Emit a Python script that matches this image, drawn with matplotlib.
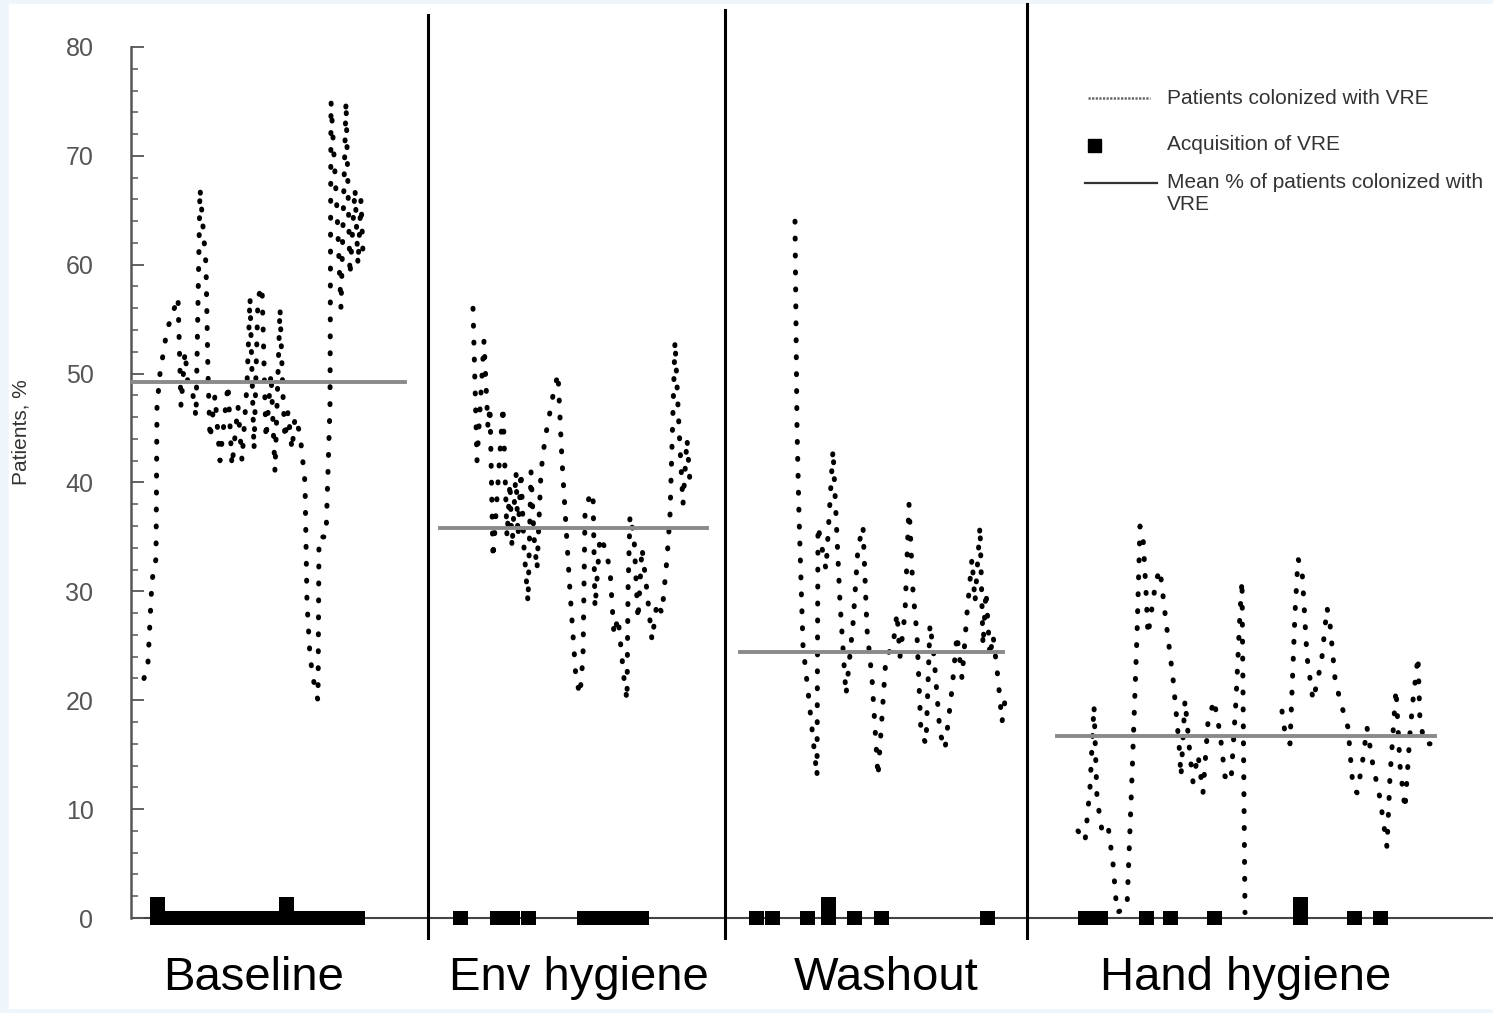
import matplotlib
matplotlib.use("Agg")
import matplotlib.pyplot as plt
from matplotlib.lines import Line2D
from matplotlib.patches import Rectangle
from matplotlib.ticker import FixedLocator

plt.rcParams["font.family"] = ["Liberation Sans", "DejaVu Sans"]
plt.rcParams["lines.scale_dashes"] = False

# ---- data (x = study day, y = % of patients colonized) ----
bl_day = [2.6, 3.4, 4.2, 5.0, 5.2, 5.8, 7.2, 9.4, 10.0, 10.8,
          11.4, 12.4, 13.0, 13.8, 15.0, 15.4, 15.8, 16.8, 17.8, 19.4,
          20.2, 21.4, 22.2, 23.2, 23.8, 24.6, 25.4, 26.2, 27.0, 28.0,
          28.8, 29.8, 30.4, 30.8, 31.4, 32.2, 32.8, 33.8, 34.8, 35.2,
          35.8, 36.8, 37.4, 37.6, 39.0, 39.8, 40.0, 41.2, 42.0, 43.0,
          43.8, 44.8, 45.4, 46.0, 46.4]
bl_pct = [22, 23.5, 31, 33, 47, 50, 54, 57, 47, 52,
          49, 48, 46, 67, 60, 50, 44, 48, 42, 49,
          41.5, 47, 42, 49, 57, 43, 57, 58, 44, 50,
          41, 56, 48, 44, 46.5, 43, 46, 44.5, 40, 29,
          24, 21, 20, 35, 35, 47, 75, 65, 56, 75,
          59, 67, 60, 66, 61]

env_day = [68.4, 69.2, 70.6, 71.4, 71.8, 72.4, 74.4, 75.2, 75.8, 76.2,
           77.0, 77.4, 78.0, 78.6, 79.4, 80.0, 80.6, 81.2, 82.0, 82.8,
           83.6, 84.4, 85.4, 86.2, 86.8, 87.8, 89.0, 89.8, 90.4, 90.8,
           91.8, 92.4, 92.8, 93.8, 94.8, 95.8, 96.6, 97.4, 98.6, 99.2,
           99.4, 99.8, 100.6, 101.4, 102.2, 103.2, 104.2, 105.2, 106.2, 107.2,
           107.8, 108.8, 109.6, 110.4, 111.2, 111.8]
env_pct = [56, 42, 53, 45, 47, 33, 47, 35, 40, 34,
           41, 35, 41, 34, 29, 41, 35, 32, 41, 44,
           46, 48, 50, 42, 37.5, 30, 22, 20.5, 24, 37,
           39, 39, 28.5, 35, 34, 32, 26, 27.6, 22, 20,
           30, 37, 35, 27.4, 34, 30, 25.5, 29, 28, 33,
           37, 53, 45, 38, 44, 40]

wo_day = [132.8, 133.2, 133.6, 134.4, 135.6, 137.2, 137.4, 139.0, 140.4, 141.4,
          141.8, 143.0, 144.4, 145.4, 146.4, 147.2, 148.2, 149.4, 151.0, 152.4,
          153.2, 153.8, 154.8, 155.6, 156.4, 157.2, 158.0, 159.0, 159.8, 160.6,
          161.8, 162.8, 164.2, 165.2, 166.2, 167.2, 168.2, 168.8, 169.8, 170.4,
          171.0, 171.8, 172.4, 173.4, 174.2, 174.8, 175.2]
wo_pct = [64, 45, 37, 25, 20, 13, 36, 32, 43, 33,
          29, 20.5, 27, 34, 36, 26.5, 22, 13, 24, 25,
          28, 24, 28, 38, 30, 26, 17, 16, 27, 24,
          17, 15.5, 21, 26, 22, 28, 33, 29, 36, 25,
          30, 24, 26, 22, 18, 20, 19]

hh1_day = [189.4, 190.8, 191.8, 192.6, 193.2, 194.2, 195.4, 196.4, 197.2, 199.2,
           200.2, 201.2, 201.8, 202.4, 203.0, 203.4, 205.0, 205.8, 206.8, 208.4,
           209.6, 210.0, 210.8, 211.8, 212.4, 213.4, 214.4, 215.4, 216.6, 217.8,
           218.8, 220.0, 221.0, 221.8, 222.2, 222.8]
hh1_pct = [8, 7, 12, 19.5, 11, 8, 8.5, 5, 0.5, 1,
           13, 26, 36, 35, 30, 26, 31, 32, 28, 22,
           16, 13, 20, 15, 12.5, 15, 11.5, 18, 20, 17,
           13, 12.5, 20, 28, 31, 0.5]
hh2_day = [230.2, 230.8, 231.8, 232.8, 233.4, 234.2, 235.2, 236.4, 237.4, 238.2,
           239.2, 239.8, 240.8, 241.8, 243.4, 244.4, 245.2, 246.2, 247.2, 248.4,
           249.8, 251.2, 251.8, 253.0, 253.8, 254.8, 255.8, 256.4, 257.4, 257.8,
           258.8, 259.8]
hh2_pct = [19, 17, 16, 28, 33, 32, 24, 20, 22, 24,
           28.5, 27, 22, 20, 17.5, 12, 11.5, 14, 17.5, 14,
           11, 6.5, 13, 21, 14, 10, 17, 20, 24, 18,
           16, 16]

# acquisitions of VRE (day, number of patients)
acq_day = [5.3, 8.2, 11.0, 13.9, 16.7, 19.6, 22.5, 25.3, 28.2, 31.0,
           33.9, 36.8, 39.6, 42.5, 45.3,
           65.8, 73.2, 76.2, 79.4, 90.7, 93.6, 96.4, 99.3, 102.1,
           125.0, 128.2, 135.3, 139.4, 144.7, 150.0, 171.2,
           190.8, 193.8, 203.1, 207.9, 216.6, 233.8, 244.6, 249.9]
acq_n = [2, 1, 1, 1, 1, 1, 1, 1, 1, 2,
         1, 1, 1, 1, 1,
         1, 1, 1, 1, 1, 1, 1, 1, 1,
         1, 1, 1, 2, 1, 1, 1,
         1, 1, 1, 1, 1, 2, 1, 1]

# phase means and the span each mean line covers
mean_pct = [49.2, 35.8, 24.4, 16.7]
mean_from = [0.0, 61.8, 121.8, 185.2]
mean_to = [54.8, 115.2, 174.4, 260.8]

phase_edges = [59.4, 118.8, 179.2]
phase_tops = [82.9, 83.4, 83.9]
phase_names = ["Baseline", "Env hygiene", "Washout", "Hand hygiene"]
phase_label_x = [24.6, 89.6, 151.0, 223.0]

W, H = 1493, 1013


def fx(px):
    return px / W


def fy(py):
    return 1 - py / H


fig = plt.figure(figsize=(W / 100, H / 100), dpi=100, facecolor="#eef6fc")
fig.patches.append(Rectangle((fx(9), fy(1008)), 1, (1008 - 4) / H,
                             transform=fig.transFigure, color="white",
                             zorder=-10))

ax = fig.add_axes([fx(131), fy(939.8), 1362 / W, (939.8 - 3.4) / H])
ax.set_facecolor("none")
ax.set_xlim(0, 272.4)
ax.set_ylim(-2, 84)

for s in ("top", "right", "bottom"):
    ax.spines[s].set_visible(False)
ax.spines["left"].set_bounds(0, 80)
ax.spines["left"].set_color("#555555")
ax.spines["left"].set_linewidth(1.8)
ax.set_xticks([])
ax.yaxis.set_major_locator(FixedLocator(range(0, 81, 10)))
ax.yaxis.set_minor_locator(FixedLocator(range(0, 81, 2)))
ax.tick_params(axis="y", which="major", direction="in", length=9, width=1.3,
               color="#555555", labelcolor="#555555", labelsize=18, pad=27)
ax.tick_params(axis="y", which="minor", direction="in", length=5, width=1.1,
               color="#555555")

ax.axhline(0, color="#444444", lw=1.5, zorder=1)

for x, top in zip(phase_edges, phase_tops):
    ax.plot([x, x], [-1.84, top], color="black", lw=2.2, clip_on=False)

# daily census drawn as a heavy dotted line
dotted = dict(color="black", lw=3.6, linestyle=(0, (0.7, 11.5)),
              dash_capstyle="round", zorder=3)
for d, p in [(bl_day, bl_pct), (env_day, env_pct), (wo_day, wo_pct),
             (hh1_day, hh1_pct), (hh2_day, hh2_pct)]:
    ax.plot(d, p, **dotted)

ax.bar(acq_day, [1.3 * n for n in acq_n], width=3.0, bottom=-0.65,
       color="black", zorder=4)

for m, a, b in zip(mean_pct, mean_from, mean_to):
    ax.plot([a, b], [m, m], color="#8a8a8a", lw=2.8, zorder=5)

for x, name in zip(phase_label_x, phase_names):
    ax.text(x, -5.5, name, ha="center", va="center", fontsize=34,
            color="black", clip_on=False)

# y label
fig.text(fx(21), fy(432), "Patients, %", rotation=90, ha="center",
         va="center", fontsize=15, color="#333333")

# legend drawn by hand, as in the source figure
fig.add_artist(Line2D([fx(1088), fx(1150)], [fy(98), fy(98)], color="#666666",
                      lw=1.8, linestyle=(0, (1.6, 1.0))))
fig.add_artist(Rectangle((fx(1088), fy(152)), 13 / W, 13 / H,
                         transform=fig.transFigure, color="black"))
fig.add_artist(Line2D([fx(1085), fx(1157)], [fy(183), fy(183)],
                      color="#333333", lw=1.6))
leg = dict(fontsize=15, color="#333333", ha="left")
fig.text(fx(1167), fy(98), "Patients colonized with VRE", va="center", **leg)
fig.text(fx(1167), fy(145), "Acquisition of VRE", va="center", **leg)
fig.text(fx(1167), fy(173), "Mean % of patients colonized with\nVRE",
         va="top", linespacing=1.2, **leg)

fig.savefig("out.png", dpi=100, facecolor=fig.get_facecolor())
